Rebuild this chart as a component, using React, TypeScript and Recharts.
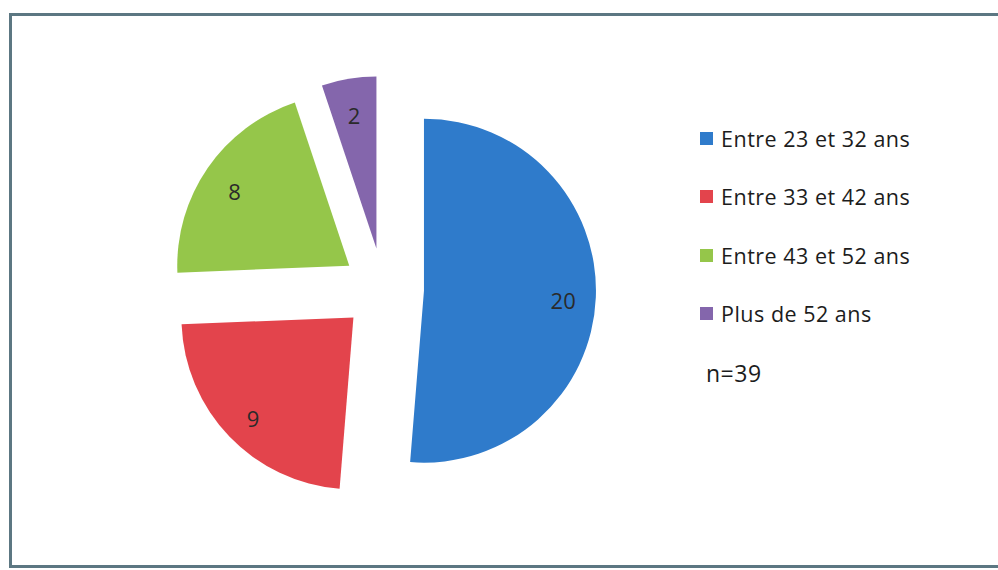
import React from "react";
import { PieChart, Pie, Cell } from "recharts";

// tranches d'âge
const categories = ["Entre 23 et 32 ans", "Entre 33 et 42 ans", "Entre 43 et 52 ans", "Plus de 52 ans"];
const effectifs = [20, 9, 8, 2];
const couleurs = ["#2F7BCB", "#E3444C", "#95C64A", "#8466AC"];
const totalLabel = "n=39";

const W = 998;
const H = 570;
const CX = 383;
const CY = 289;
const R = 172;
const EXPLODE = 41;
const FONT = "'Open Sans', 'Liberation Sans', sans-serif";

const data = categories.map((name, i) => ({ name, value: effectifs[i] }));
const total = effectifs.reduce((a, b) => a + b, 0);

// angle milieu de chaque part (degrés, sens horaire depuis midi)
const midAngles = effectifs.map((v, i) => {
  const before = effectifs.slice(0, i).reduce((a, b) => a + b, 0);
  return ((before + v / 2) / total) * 360;
});

const renderLabel = (visible: number) => (props: any) => {
  if (props.index !== visible) return null;
  const RAD = Math.PI / 180;
  const r = props.outerRadius * 0.81;
  const x = props.cx + r * Math.cos(-props.midAngle * RAD);
  const y = props.cy + r * Math.sin(-props.midAngle * RAD);
  return (
    <text x={x} y={y + 4} textAnchor="middle" dominantBaseline="central" fill="#2a2a2a" fontSize={22} fontFamily={FONT}>
      {props.value}
    </text>
  );
};

export default function App() {
  return (
    <div style={{ position: "absolute", left: 0, top: 0, width: W, height: H, background: "#fff", overflow: "hidden" }}>
      <div
        style={{
          position: "absolute",
          left: 9,
          top: 13,
          width: W,
          height: 555,
          border: "3px solid #5c7782",
          boxSizing: "border-box",
        }}
      />
      <div style={{ position: "absolute", left: 0, top: 0 }}>
        <PieChart width={W} height={H} margin={{ top: 0, right: 0, bottom: 0, left: 0 }}>
          {categories.map((_, i) => {
            const a = (midAngles[i] * Math.PI) / 180;
            return (
              <Pie
                key={i}
                data={data}
                dataKey="value"
                nameKey="name"
                cx={CX + EXPLODE * Math.sin(a)}
                cy={CY - EXPLODE * Math.cos(a)}
                outerRadius={R}
                startAngle={90}
                endAngle={-270}
                stroke="none"
                label={renderLabel(i)}
                labelLine={false}
                isAnimationActive={false}
              >
                {data.map((d, j) => (
                  <Cell key={d.name} fill={j === i ? couleurs[j] : "transparent"} />
                ))}
              </Pie>
            );
          })}
        </PieChart>
      </div>
      <div style={{ position: "absolute", left: 700, top: 123, fontFamily: FONT, fontSize: 21.5, color: "#1c1c1c", letterSpacing: 0.5 }}>
        {categories.map((c, i) => (
          <div key={c} style={{ display: "flex", alignItems: "center", height: 30, marginBottom: 28.5 }}>
            <span style={{ width: 13, height: 13, background: couleurs[i], display: "inline-block", marginRight: 8 }} />
            <span>{c}</span>
          </div>
        ))}
        <div style={{ marginTop: 14, marginLeft: 6, fontSize: 23 }}>{totalLabel}</div>
      </div>
    </div>
  );
}
